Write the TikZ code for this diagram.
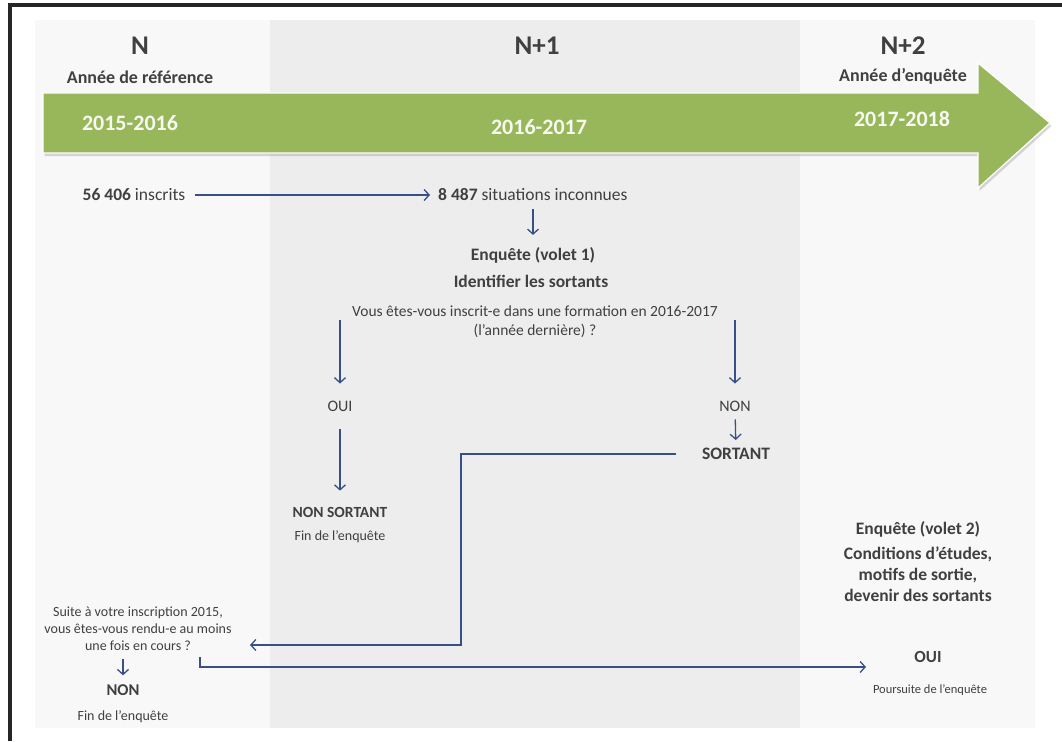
\documentclass[tikz,border=0pt]{standalone}
\usepackage{fontspec}
\setmainfont{Carlito}
\usetikzlibrary{arrows.meta,shadows,positioning}

\definecolor{bandgreen}{RGB}{151,183,90}
\definecolor{flowblue}{RGB}{55,80,135}
\definecolor{textgray}{RGB}{64,64,64}
\definecolor{colpale}{RGB}{248,248,248}
\definecolor{colmid}{RGB}{237,237,237}

\begin{document}
\begin{tikzpicture}[x=1pt,y=-1pt,
  txt/.style={inner sep=0pt, font=\fontsize{14}{17}\selectfont, text=textgray, align=center},
  txtmid/.style={txt, font=\fontsize{16}{19}\selectfont},
  txtbig/.style={txt, font=\fontsize{17.5}{20}\selectfont},
  txtb/.style={txt, font=\fontsize{15.5}{19}\selectfont\bfseries},
  txtbbig/.style={txt, font=\fontsize{17.5}{21}\selectfont\bfseries},
  colhead/.style={inner sep=0pt, font=\fontsize{27}{30}\selectfont\bfseries, text=textgray},
  colsub/.style={inner sep=0pt, font=\fontsize{18}{21}\selectfont\bfseries, text=textgray},
  yearlbl/.style={inner sep=0pt, font=\fontsize{22}{26}\selectfont\bfseries, text=white!92!bandgreen},
  flow/.style={-{Straight Barb[length=5pt,width=11pt]}, draw=flowblue, line width=1.3pt}
]
  \useasboundingbox (0,0) rectangle (1062,741);
  \fill[white] (0,0) rectangle (1062,741);

  % year columns
  \fill[colpale] (35,20) rectangle (270,728);
  \fill[colmid] (270,20) rectangle (800,728);
  \fill[colpale] (800,20) rectangle (1035,728);
  \draw[line width=4pt, black!85] (10,741) -- (10,5) -- (1062,5);

  % time band
  \path[fill=bandgreen, draw=white, line width=1.2pt,
    drop shadow={opacity=0.3, shadow xshift=1.5pt, shadow yshift=-3pt}]
    (43,93) -- (978,93) -- (978,63) -- (1050,123) -- (978,188) -- (978,153) -- (43,153) -- cycle;

  \node[colhead] (hN) at (140,46) {N};
  \node[colsub] (subN) at (140,77) {Année de référence};
  \node[colhead] (hN1) at (537,46) {N+1};
  \node[colhead] (hN2) at (903,46) {N+2};
  \node[colsub] (subN2) at (903,76) {Année d’enquête};
  \node[yearlbl] (y1) at (130,123) {2015-2016};
  \node[yearlbl] (y2) at (539,127) {2016-2017};
  \node[yearlbl] (y3) at (902,119) {2017-2018};

  % volet 1
  \node[txtbig] (inscrits) at (134,195) {\textbf{56 406} inscrits};
  \node[txtbig, anchor=west] (inconnues) at (438,195) {\textbf{8~487} situations inconnues};
  \node[txtbbig] (volet1) at (533,255) {Enquête (volet 1)};
  \node[txtbbig] (identifier) at (531,281) {Identifier les sortants};
  \node[txt, font=\fontsize{15.5}{19}\selectfont] (question1) at (535,322) {Vous êtes-vous inscrit-e dans une formation en 2016-2017\\(l’année dernière) ?};
  \coordinate (qL) at (340,320);
  \coordinate (qR) at (735,320);
  \node[txtmid] (oui1) at (340,406) {OUI};
  \node[txtb] (nonsortant) at (340,512) {NON SORTANT};
  \node[txt] (fin1) at (340,537) {Fin de l’enquête};
  \node[txtmid] (non1) at (735,406) {NON};
  \node[txtbbig] (sortant) at (736,454) {SORTANT};

  \draw[flow, shorten <=10pt, shorten >=8pt] (inscrits.east) -- (inconnues.west);
  \draw[flow, shorten <=8pt, shorten >=12pt] (inconnues.south -| volet1) -- (volet1);
  \draw[flow] (qL) -- ([yshift=17pt]oui1.north);
  \draw[flow, shorten <=18pt, shorten >=16pt] (oui1) -- (nonsortant);
  \draw[flow] (qR) -- ([yshift=17pt]non1.north);
  \draw[flow, shorten <=8pt, shorten >=8pt] (non1) -- (sortant);

  % question 2
  \node[txt] (question2) at (138,629) {Suite à votre inscription 2015,\\vous êtes-vous rendu-e au moins\\une fois en cours ?};
  \node[txtb, font=\fontsize{16.5}{19}\selectfont\bfseries] (non2) at (123,690) {NON};
  \node[txt] (fin2) at (123,717) {Fin de l’enquête};
  \coordinate (stepdown) at (461,645);
  \coordinate (q2in) at (250,645);
  \coordinate (q2out) at (200,657);
  \coordinate (oui2in) at (866,667);
  \draw[flow, shorten <=26pt] (sortant.west) -| (stepdown) -- (q2in);
  \draw[flow, shorten <=8pt, shorten >=9pt] (question2.south -| non2) -- (non2);
  \draw[flow] (q2out) |- (oui2in);

  % volet 2
  \node[txtbbig] (volet2) at (918,529) {Enquête (volet 2)};
  \node[txtbbig] (conditions) at (918,574) {Conditions d’études,\\motifs de sortie,\\devenir des sortants};
  \node[txtbbig, font=\fontsize{17}{20}\selectfont\bfseries] (oui2) at (928,657) {OUI};
  \node[txt, font=\fontsize{12.5}{15}\selectfont] (poursuite) at (930,690) {Poursuite de l’enquête};
\end{tikzpicture}
\end{document}
